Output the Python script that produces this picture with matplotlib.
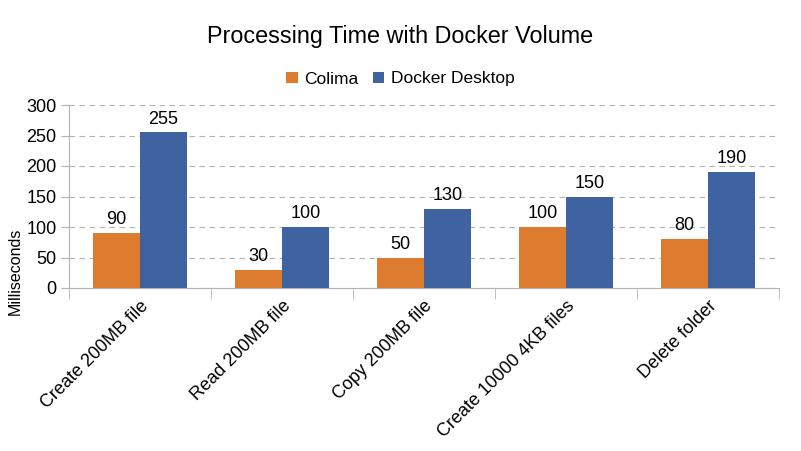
import matplotlib
matplotlib.use('Agg')
import matplotlib.pyplot as plt
import numpy as np

# Data
categories = ['Create 200MB file', 'Read 200MB file', 'Copy 200MB file',
              'Create 10000 4KB files', 'Delete folder']
colima = [90, 30, 50, 100, 80]
docker_desktop = [255, 100, 130, 150, 190]

plt.rcParams['font.family'] = ['Liberation Sans', 'DejaVu Sans']

fig = plt.figure(figsize=(8.01, 4.51), dpi=100)
ax = fig.add_axes([69/801, 1-288/451, 710/801, 183/451])

x = np.arange(len(categories))
w = 0.33
b1 = ax.bar(x - w/2, colima, w, color='#dd7b2f', label='Colima', zorder=3)
b2 = ax.bar(x + w/2, docker_desktop, w, color='#3e63a0', label='Docker Desktop', zorder=3)

for bars in (b1, b2):
    for r in bars:
        ax.text(r.get_x() + r.get_width()/2, r.get_height() + 8, f'{int(r.get_height())}',
                ha='center', va='bottom', fontsize=13)

ax.set_xlim(-0.5, len(categories) - 0.5)
ax.set_ylim(0, 300)
ax.set_yticks(range(0, 301, 50))
ax.tick_params(axis='y', labelsize=13, length=6, color='#b3b3b3', pad=3)
ax.set_xticks(x)
ax.set_xticklabels(categories, rotation=45, ha='right', rotation_mode='anchor', fontsize=13)
ax.set_xticks(np.arange(-0.5, len(categories)), minor=True)
ax.tick_params(axis='x', which='major', length=0, pad=7)
ax.tick_params(axis='x', which='minor', length=8, color='#b3b3b3')
ax.grid(axis='y', color='#b3b3b3', linestyle=(0, (5, 4)), linewidth=0.8, zorder=0)
for s in ['top', 'right']:
    ax.spines[s].set_visible(False)
for s in ['left', 'bottom']:
    ax.spines[s].set_color('#b3b3b3')
ax.set_ylabel('Milliseconds', fontsize=11.5)
ax.yaxis.set_label_coords(23/801, 1-271/451, transform=fig.transFigure)

fig.text(0.5, 1-37/451, 'Processing Time with Docker Volume', ha='center', va='center', fontsize=16.8)
ax.legend(loc='center', bbox_to_anchor=(0.5, (451-79)/451), bbox_transform=fig.transFigure,
          ncol=2, frameon=False, fontsize=12.5, handlelength=0.65, handleheight=0.65,
          handletextpad=0.4, columnspacing=0.8)

fig.savefig('out.png', dpi=100)
